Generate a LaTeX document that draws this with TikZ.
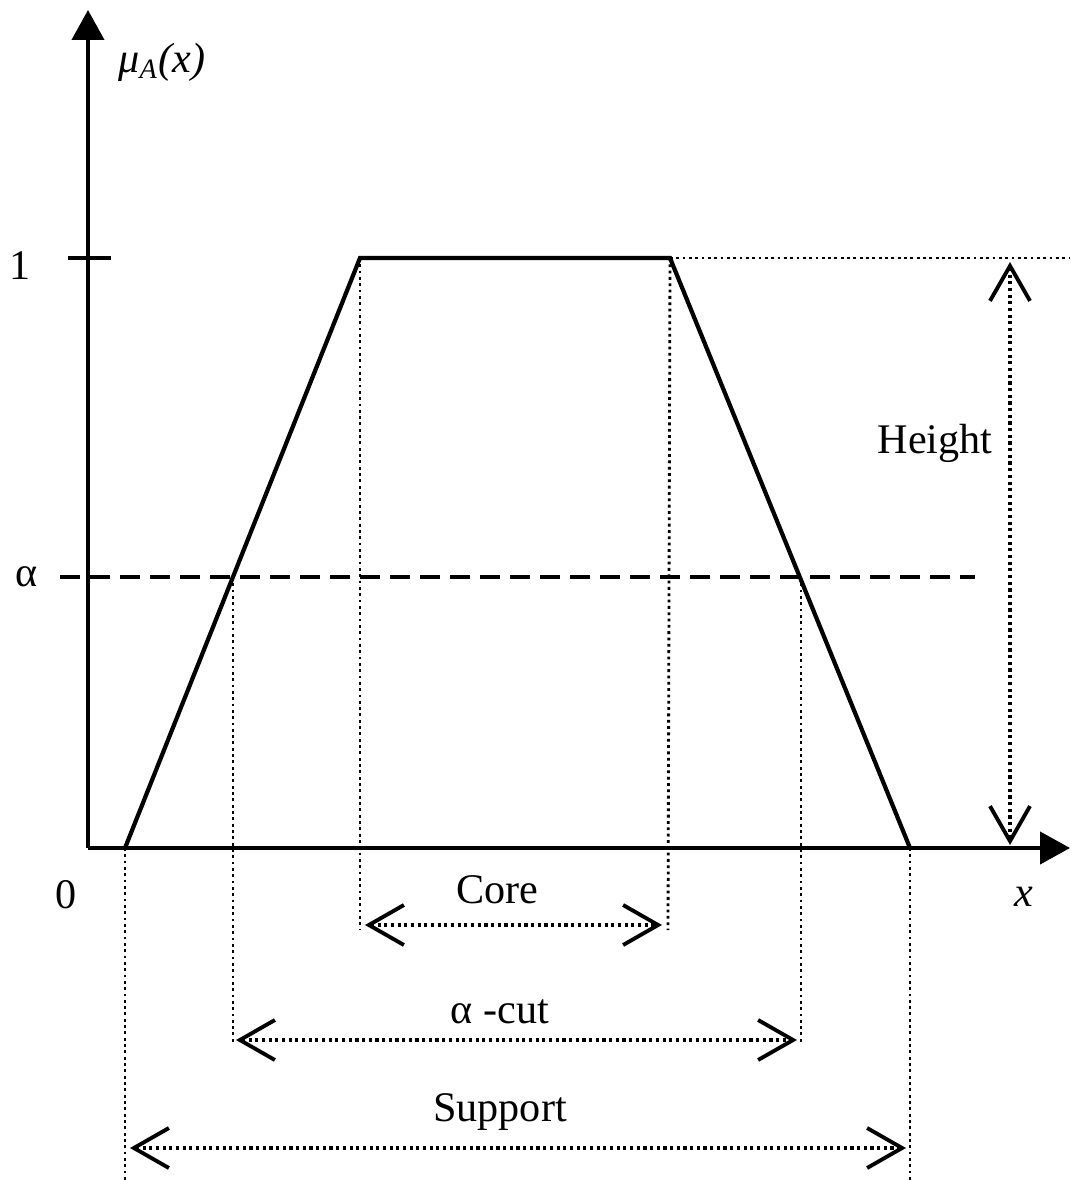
\documentclass[tikz,border=0pt]{standalone}
\usepackage{fontspec}
\setmainfont{Liberation Serif}
\usetikzlibrary{arrows.meta, positioning}

\begin{document}
\begin{tikzpicture}[x=0.1mm, y=-0.1mm,
      axis/.style={line width=1.2pt, -{Triangle[length=3mm, width=3.2mm]}},
      memb/.style={line width=1.2pt, line join=miter},
      guide/.style={line width=0.8pt, densely dotted},
      cutline/.style={line width=0.9pt, dash pattern=on 2mm off 1mm},
      vbarb/.tip={Straight Barb[length=3.5mm, width=4mm, line width=1.1pt]},
      span/.style={line width=0.9pt, densely dotted, vbarb-vbarb},
      lbl/.style={font=\fontsize{12}{14}\selectfont, inner sep=1pt}]
      \useasboundingbox (0,0) rectangle (1070,1180);
      % axes
      \coordinate (o) at (88,848);
      \coordinate (ytop) at (88,10);
      \coordinate (xend) at (1070,848);
      \draw[axis] (o) -- (ytop);
      \draw[axis] (o) -- (xend);
      \coordinate (tl) at (68,258); \coordinate (tr) at (111,258);
      \draw[line width=1.2pt] (tl) -- (tr);
      % trapezoid
      \coordinate (a) at (125,848);
      \coordinate (b) at (360,258);
      \coordinate (c) at (670,258);
      \coordinate (d) at (910,848);
      \draw[memb] (a) -- (b) -- (c) -- (d);
      \coordinate (hend) at (1070,258);
      \draw[guide] (c) -- (hend);
      % alpha level
      \coordinate (cl) at (60,577); \coordinate (cr) at (975,577);
      \coordinate (al) at (233,577); \coordinate (ar) at (801,577);
      \draw[cutline] (cl) -- (cr);
      % guides down
      \coordinate (b2) at (360,930); \coordinate (c2) at (668,930);
      \coordinate (al2) at (233,1045); \coordinate (ar2) at (801,1045);
      \coordinate (a2) at (125,1180); \coordinate (d2) at (910,1180);
      \draw[guide] (b) -- (b2);
      \draw[guide] (c) -- (c2);
      \draw[guide] (al) -- (al2);
      \draw[guide] (ar) -- (ar2);
      \draw[guide] (a) -- (a2);
      \draw[guide] (d) -- (d2);
      % spans
      \coordinate (k1) at (365,925); \coordinate (k2) at (662,925);
      \coordinate (s1) at (236,1040); \coordinate (s2) at (797,1040);
      \coordinate (p1) at (130,1148); \coordinate (p2) at (906,1148);
      \coordinate (h1) at (1010,262); \coordinate (h2) at (1010,845);
      \draw[span] (k1) -- (k2);
      \draw[span] (s1) -- (s2);
      \draw[span] (p1) -- (p2);
      \draw[span] (h1) -- (h2);
      % labels
      \node[lbl] (one) at (20,266) {1};
      \node[lbl] (alpha) at (27,577) {α};
      \node[lbl] (zero) at (66,895) {0};
      \node[lbl] (xlbl) at (1024,897) {\textit{x}};
      \node[lbl] (mu) at (162,62) {\textit{μ\textsubscript{A}(x)}};
      \node[lbl] (core) at (497,890) {Core};
      \node[lbl] (acut) at (500,1012) {α -cut};
      \node[lbl] (supp) at (500,1112) {Support};
      \node[lbl] (height) at (935,443) {Height};
\end{tikzpicture}
\end{document}
